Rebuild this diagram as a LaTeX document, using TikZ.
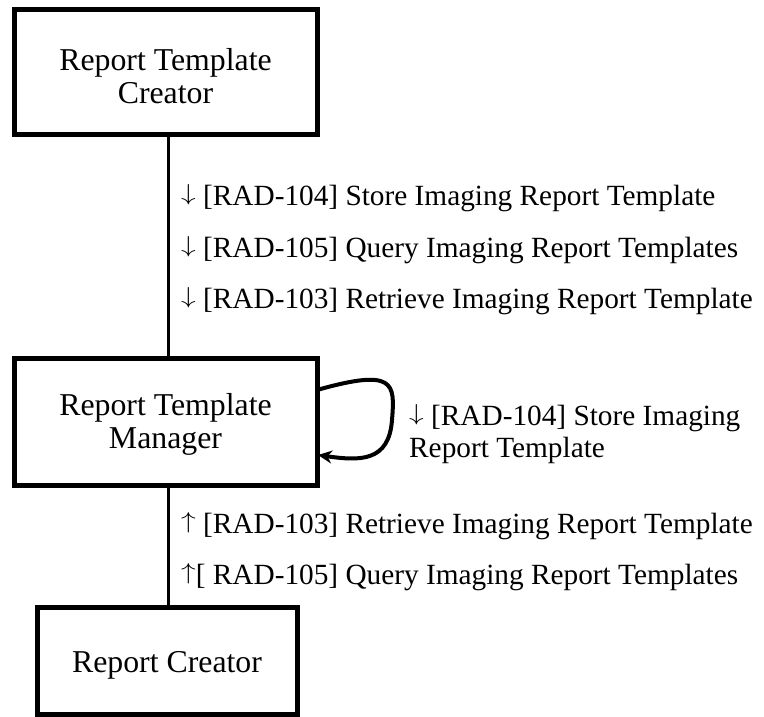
\documentclass[tikz,border=0pt]{standalone}
\usepackage{fontspec}
\usepackage{graphicx}
\setmainfont{Liberation Serif}
\usetikzlibrary{arrows.meta}
\newcommand\dnar{\raisebox{0.15em}{\resizebox*{0.5em}{0.7em}{$\downarrow$}}}
\newcommand\upar{\raisebox{0.15em}{\resizebox*{0.5em}{0.7em}{$\uparrow$}}}
\begin{document}
\begin{tikzpicture}[x=1pt,y=-1pt,
  actor/.style={draw=black,line width=5pt,align=center,inner sep=0pt,
    font=\fontsize{31.8}{33}\selectfont},
  conn/.style={draw=black,line width=3pt},
  lbl/.style={inner sep=0pt,anchor=base west,font=\fontsize{29.3}{32}\selectfont},
  loopline/.style={draw=black,line width=4pt,-{Stealth[length=14pt,width=13pt]}}]
\useasboundingbox (0,0) rectangle (764,717);
\node[actor,minimum width=303pt,minimum height=125pt] (c) at (165.5,72.5) {\rule{0pt}{30pt}Report Template\\Creator};
\node[actor,minimum width=303pt,minimum height=127pt] (m) at (165.5,421.5) {\rule{0pt}{28pt}Report Template\\Manager};
\node[actor,minimum width=260pt,minimum height=107pt] (r) at (167,660.5) {\rule{0pt}{30pt}Report Creator};
\coordinate (ct) at (168,135);
\draw[conn] (c.south -| ct) -- (m.north -| ct);
\draw[conn] (m.south -| ct) -- (r.north -| ct);
\coordinate (ls) at (317,390);
\coordinate (le) at (318,455);
\draw[loopline] (ls) .. controls (395,368) and (395,383) .. (392,420) .. controls (389,462) and (360,461) .. (le);
\node[lbl] (l1) at (181,205) {\dnar\ [RAD-104] Store Imaging Report Template};
\node[lbl] (l2) at (181,257) {\dnar\ [RAD-105] Query Imaging Report Templates};
\node[lbl] (l3) at (181,308) {\dnar\ [RAD-103] Retrieve Imaging Report Template};
\node[lbl,align=left] (l4) at (409,457) {\dnar\ [RAD-104] Store Imaging\\Report Template};
\node[lbl] (l5) at (181,533) {\upar\ [RAD-103] Retrieve Imaging Report Template};
\node[lbl] (l6) at (181,584) {\upar[ RAD-105] Query Imaging Report Templates};
\end{tikzpicture}
\end{document}
